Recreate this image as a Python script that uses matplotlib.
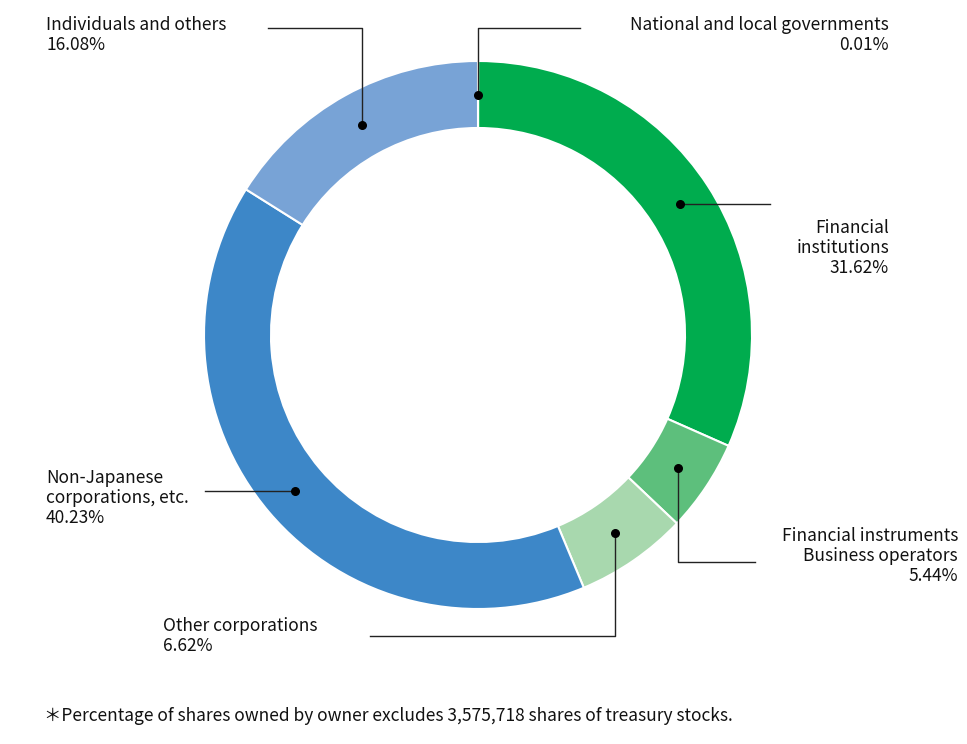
import numpy as np
import matplotlib.pyplot as plt

plt.rcParams['font.family'] = ['Noto Sans CJK JP', 'DejaVu Sans']

labels = ["National and local governments", "Financial\ninstitutions",
          "Financial instruments\nBusiness operators", "Other corporations",
          "Non-Japanese\ncorporations, etc.", "Individuals and others"]
shares = [0.01, 31.62, 5.44, 6.62, 40.23, 16.08]
colors = ["#00AC4E", "#00AC4E", "#5DBF7C", "#A8D8AE", "#3D87C8", "#78A3D6"]

W, H = 967, 744
fig = plt.figure(figsize=(W / 100, H / 100), dpi=100)
ax = fig.add_axes([0, 0, 1, 1])
ax.set_xlim(0, W)
ax.set_ylim(0, H)
ax.set_aspect('equal')
ax.axis('off')

cx, cy, R, ring = 478, H - 335, 274, 67
ax.pie(shares, colors=colors, startangle=90, counterclock=False,
       center=(cx, cy), radius=R, frame=True,
       wedgeprops=dict(width=ring, edgecolor='white', linewidth=1.5))
ax.set_xlim(0, W)
ax.set_ylim(0, H)
ax.axis('off')

# dot positions at the middle of each wedge
cum = np.cumsum([0] + shares)
mid = (cum[:-1] + cum[1:]) / 2 / 100 * 2 * np.pi
rm = R - ring / 2
dots = [(cx + rm * np.sin(a), cy + rm * np.cos(a)) for a in mid]

def y(py):
    return H - py

fs = 12.5
lc = dict(color='#222222', lw=1)
text_kw = dict(fontsize=fs, color='#111111', linespacing=1.15)

# governments
dx, dy = dots[0]
ax.plot([dx, dx, 580], [dy, y(28), y(28)], **lc)
ax.text(889, y(16), labels[0] + f"\n{shares[0]:.2f}%", ha='right', va='top', **text_kw)
# individuals
dx, dy = dots[5]
ax.plot([dx, dx, 268], [dy, y(28), y(28)], **lc)
ax.text(46, y(16), labels[5] + f"\n{shares[5]:.2f}%", ha='left', va='top', **text_kw)
# financial institutions
dx, dy = dots[1]
ax.plot([dx, 770], [dy, dy], **lc)
ax.text(889, y(219), labels[1] + f"\n{shares[1]:.2f}%", ha='right', va='top', **text_kw)
# financial instruments
dx, dy = dots[2]
ax.plot([dx, dx, 755], [dy, y(562), y(562)], **lc)
ax.text(958, y(527), labels[2] + f"\n{shares[2]:.2f}%", ha='right', va='top', **text_kw)
# other corporations
dx, dy = dots[3]
ax.plot([dx, dx, 370], [dy, y(636), y(636)], **lc)
ax.text(163, y(617), labels[3] + f"\n{shares[3]:.2f}%", ha='left', va='top', **text_kw)
# non-japanese
dx, dy = dots[4]
ax.plot([dx, 205], [dy, dy], **lc)
ax.text(46, y(469), labels[4] + f"\n{shares[4]:.2f}%", ha='left', va='top', **text_kw)

ax.scatter([d[0] for d in dots], [d[1] for d in dots], s=30, color='black', zorder=5)

ax.text(44, y(716), "＊Percentage of shares owned by owner excludes 3,575,718 shares of treasury stocks.",
        ha='left', va='center', fontsize=12.5, color='#111111')

fig.savefig("out.png", dpi=100)
